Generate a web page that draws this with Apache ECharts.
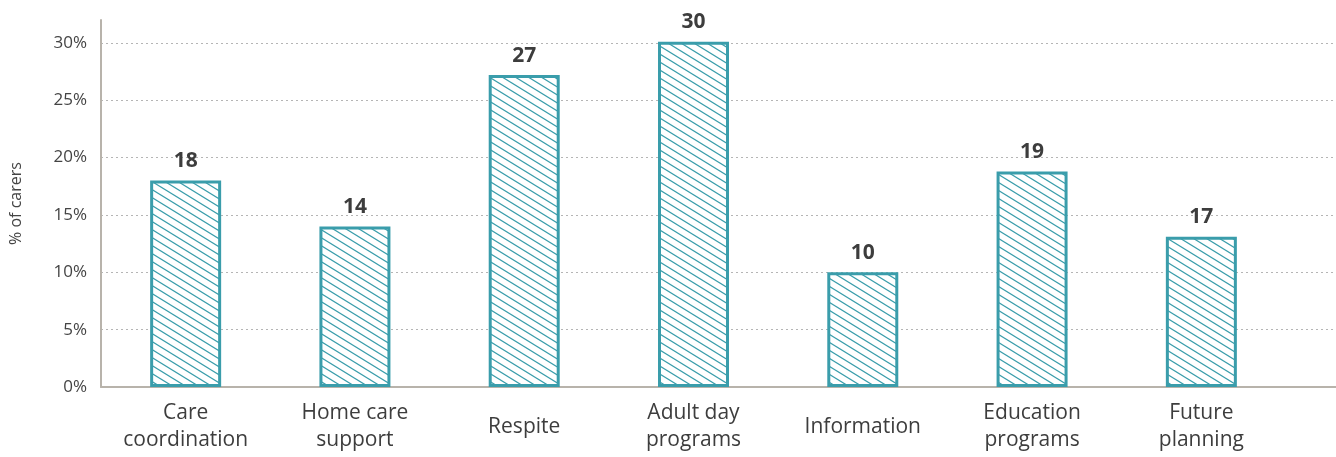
<!DOCTYPE html>
<html>
<head>
<meta charset="utf-8">
<script src="https://cdn.jsdelivr.net/npm/echarts@6/dist/echarts.min.js"></script>
<style>
html,body{margin:0;padding:0;background:#fff;}
#chart{width:1336px;height:457px;}
</style>
</head>
<body>
<div id="chart"></div>
<script>
// Data
const categories = ['Care\ncoordination', 'Home care\nsupport', 'Respite', 'Adult day\nprograms', 'Information', 'Education\nprograms', 'Future\nplanning'];
const barValues = [18, 14, 27.2, 30.1, 10, 18.8, 13.1];   // bar heights as drawn
const labelValues = [18, 14, 27, 30, 10, 19, 17];          // numbers printed above bars
const yTicks = [0, 5, 10, 15, 20, 25, 30];

const TEAL = '#3a9dab';
const AXIS = '#b8b3ab';

// hatch pattern tile (shallow "\" diagonal)
function makeHatch() {
  const w = 13, h = 8;
  const c = document.createElement('canvas');
  c.width = w; c.height = h;
  const ctx = c.getContext('2d');
  ctx.fillStyle = '#ffffff';
  ctx.fillRect(0, 0, w, h);
  ctx.strokeStyle = TEAL;
  ctx.lineWidth = 1.2;
  for (let k = -1; k <= 1; k++) {
    ctx.beginPath();
    ctx.moveTo(-w, -h + h * k);
    ctx.lineTo(2 * w, 2 * h + h * k);
    ctx.stroke();
  }
  return c;
}

const chart = echarts.init(document.getElementById('chart'), null, {renderer: 'canvas'});
const FONT = '"Open Sans", "DejaVu Sans", sans-serif';
const gridLineColors = yTicks.map(() => '#b5b5b5').concat(['rgba(0,0,0,0)']);

chart.setOption({
  animation: false,
  textStyle: {fontFamily: FONT},
  grid: [
    {left: 100, right: 0, top: 20, bottom: 70},
    {left: 101, width: 1185, top: 20, bottom: 70}
  ],
  xAxis: [
    {
      gridIndex: 0, type: 'value', min: 0, max: 1,
      axisLine: {show: true, lineStyle: {color: AXIS, width: 2}},
      axisTick: {show: false}, axisLabel: {show: false}, splitLine: {show: false}
    },
    {
      gridIndex: 1, type: 'category', data: categories,
      axisLine: {show: false}, axisTick: {show: false},
      axisLabel: {
        interval: 0, color: '#3d3d3d', fontSize: 21, lineHeight: 27,
        verticalAlign: 'middle', margin: 40, fontFamily: FONT
      }
    }
  ],
  yAxis: [
    {
      gridIndex: 0, type: 'value', min: 0, max: 32, interval: 5,
      name: '% of carers', nameLocation: 'middle', nameGap: 77, nameRotate: 90,
      nameTextStyle: {color: '#444', fontSize: 16, fontFamily: FONT},
      axisLine: {show: true, lineStyle: {color: AXIS, width: 2}},
      axisTick: {show: false},
      axisLabel: {
        color: '#444', fontSize: 17, margin: 14, showMaxLabel: false,
        formatter: v => (v % 5 === 0 ? v + '%' : '')
      },
      splitLine: {show: true, lineStyle: {color: gridLineColors, type: [2, 3], width: 1}}
    },
    {
      gridIndex: 1, type: 'value', min: 0, max: 32, show: false,
      splitLine: {show: false}
    }
  ],
  series: [{
    type: 'bar',
    xAxisIndex: 1, yAxisIndex: 1,
    data: barValues,
    barWidth: 71,
    itemStyle: {
      color: {image: makeHatch(), repeat: 'repeat'},
      borderColor: TEAL, borderWidth: 3
    },
    label: {
      show: true, position: 'top', distance: 9,
      color: '#3d3d3d', fontSize: 21, fontWeight: 'bold', fontFamily: FONT,
      formatter: p => String(labelValues[p.dataIndex])
    }
  }]
});
</script>
</body>
</html>
